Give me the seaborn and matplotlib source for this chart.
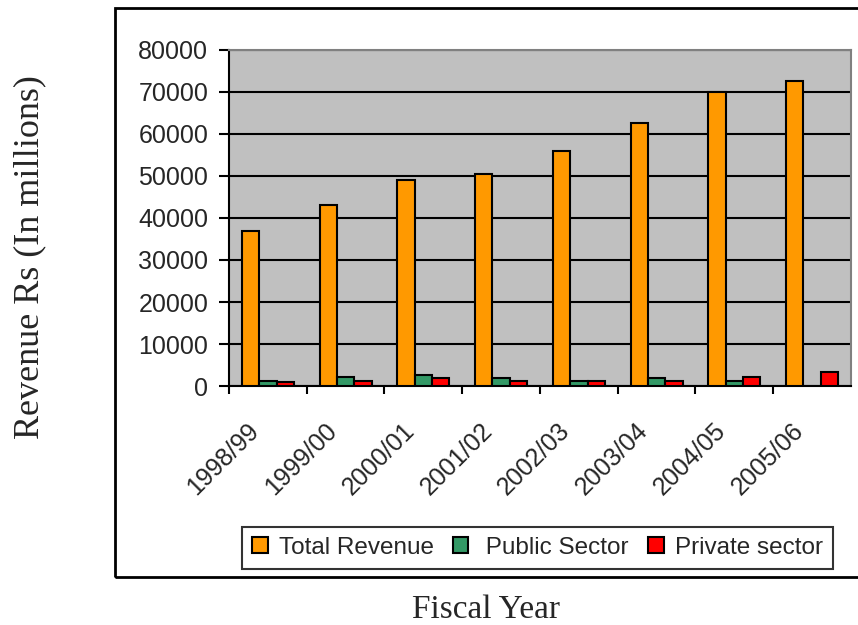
import seaborn as sns
from matplotlib import pyplot as plt
from matplotlib.patches import Rectangle
from matplotlib.transforms import ScaledTranslation
import numpy as np
import pandas as pd

years = ['1998/99', '1999/00', '2000/01', '2001/02', '2002/03', '2003/04', '2004/05', '2005/06']
total_revenue = [37000, 43000, 49000, 50500, 56000, 62500, 70000, 72500]
public_sector = [1200, 2200, 2700, 1800, 1200, 1800, 1200, np.nan]
private_sector = [900, 1300, 1800, 1300, 1200, 1300, 2200, 3300]
series = ['Total Revenue', ' Public Sector', 'Private sector']
colors = ['#FF9900', '#339966', '#FF0000']

df = pd.DataFrame({'year': years * 3,
                   'series': np.repeat(series, len(years)),
                   'value': total_revenue + public_sector + private_sector})

sns.set_style('white')
plt.rcParams['font.family'] = ['Liberation Sans', 'DejaVu Sans']

fig = plt.figure(figsize=(8.58, 6.25), dpi=100)
ax = fig.add_axes([0.2669, 0.3824, 0.9918 - 0.2669, 0.92 - 0.3824])

sns.barplot(data=df, x='year', y='value', hue='series', palette=colors,
            saturation=1, width=0.67, gap=0, edgecolor='black', linewidth=1.5,
            legend=False, ax=ax, zorder=3)

ax.set_facecolor('#C0C0C0')
ax.set_ylim(0, 80000)
ax.set_xlim(-0.5, len(years) - 0.5)
ax.set_yticks(range(0, 80001, 10000))
ax.yaxis.grid(True, color='black', linewidth=1.5, zorder=1)
ax.set_axisbelow(True)
for s in ['top', 'right']:
    ax.spines[s].set_color('#808080')
    ax.spines[s].set_linewidth(1.5)
for s in ['left', 'bottom']:
    ax.spines[s].set_color('black')
    ax.spines[s].set_linewidth(1.5)

# tick marks between categories, labels at centres
ax.set_xticks(np.arange(len(years)) - 0.5, minor=False)
ax.set_xticklabels([])
ax.set_xticks(np.arange(len(years)), minor=True)
ax.set_xticklabels(years, minor=True, rotation=45, ha='right',
                   rotation_mode='anchor', fontsize=18)
ax.tick_params(axis='x', which='major', direction='out', length=6, width=1.5, color='black', bottom=True)
ax.tick_params(axis='x', which='minor', length=0, pad=14)
ax.tick_params(axis='y', direction='out', length=7.5, width=1.5, color='black', labelsize=18, pad=7.5, left=True)
shift = ScaledTranslation(-0.21, -0.13, fig.dpi_scale_trans)
for lbl in ax.get_xticklabels(minor=True):
    lbl.set_transform(lbl.get_transform() + shift)

ax.set_xlabel('')
ax.set_ylabel('')

fig.text(0.035, 0.589, 'Revenue Rs (In millions)', rotation=90, ha='center', va='center',
         fontsize=26, family=['Liberation Serif', 'DejaVu Serif'])
fig.text(0.567, 0.0112, 'Fiscal Year', ha='center', va='baseline',
         fontsize=24, family=['Liberation Serif', 'DejaVu Serif'])

handles = [Rectangle((0, 0), 1, 1, facecolor=c, edgecolor='black', linewidth=1.5) for c in colors]
leg = fig.legend(handles, series, loc='center', bbox_to_anchor=(0.6265, 0.1232), ncol=3,
                 fontsize=17.5, frameon=True, fancybox=False, edgecolor='black',
                 handlelength=0.63, handleheight=0.63, handletextpad=0.45,
                 columnspacing=0.8, borderpad=0.42, borderaxespad=0)
leg.get_frame().set_linewidth(1.5)

fig.patches.append(Rectangle((0.134, 0.0768), 0.9, 0.91, transform=fig.transFigure,
                             fill=False, edgecolor='black', linewidth=2))

fig.savefig('out.png', dpi=100)
